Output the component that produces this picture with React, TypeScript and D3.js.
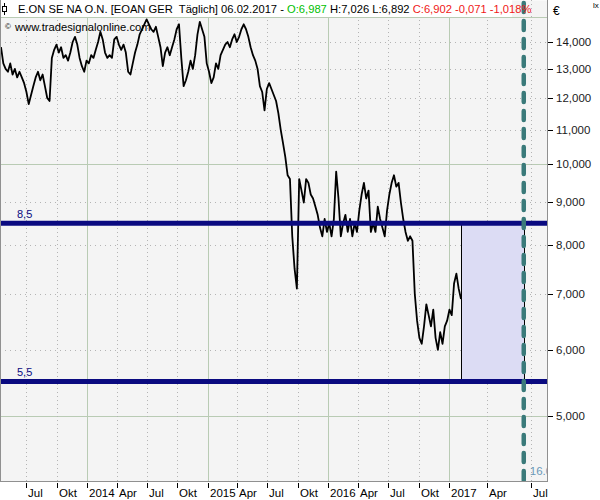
import React from 'react';
import * as d3 from 'd3';

// weekly closes (EUR), first week starts 15.04.2013, last one is 06.02.2017
const weekStart = new Date(2013, 3, 15);
const closes = [
  13.8, 13.2, 13.0, 12.9, 13.2, 12.8, 13.0, 12.7, 12.9, 12.7,
  12.5, 12.2, 11.8, 12.1, 12.4, 12.7, 12.9, 12.6, 12.8, 12.4,
  12.0, 11.9, 13.4, 13.7, 13.9, 13.6, 13.8, 13.4, 13.5, 13.3,
  13.6, 14.0, 14.2, 13.9, 13.4, 13.1, 12.9, 13.3, 13.2, 13.5,
  13.4, 13.7, 14.0, 14.4, 14.1, 13.6, 13.4, 13.5, 13.4, 14.1,
  14.2, 13.9, 13.7, 13.9, 13.6, 12.9, 12.8, 13.2, 13.6, 13.9,
  14.3, 14.5, 14.7, 14.9, 14.7, 14.5, 14.4, 14.6, 14.2, 13.8,
  13.1, 13.6, 13.8, 13.5, 13.8, 14.1, 14.5, 14.7, 13.4, 12.4,
  12.6, 12.9, 13.3, 13.0, 13.5, 14.3, 14.8, 14.5, 14.2, 13.2,
  12.9, 12.5, 12.7, 13.2, 13.0, 13.5, 13.7, 13.9, 14.0, 13.8,
  14.1, 14.3, 14.0, 14.2, 14.5, 14.7, 14.5, 14.2, 13.8, 13.5,
  13.3, 13.0, 12.4, 12.2, 11.6, 12.3, 12.5, 12.3, 12.1, 11.9,
  11.5, 11.0, 10.6, 10.2, 9.7, 9.6, 8.2, 7.5, 7.1, 9.6,
  9.3, 9.0, 9.6, 9.5, 9.2, 9.1, 8.9, 8.7, 8.4, 8.2,
  8.6, 8.3, 8.5, 8.2, 8.6, 9.8, 9.1, 8.2, 8.5, 8.7,
  8.3, 8.6, 8.2, 8.5, 8.3, 8.8, 9.2, 9.5, 9.1, 9.3,
  8.3, 8.5, 8.3, 8.9, 8.6, 8.4, 8.2, 8.8, 9.2, 9.5,
  9.7, 9.4, 9.5, 9.0, 8.6, 8.3, 8.1, 8.2, 8.1, 7.0,
  6.5, 6.2, 6.1, 6.4, 6.8, 6.6, 6.4, 6.7, 6.2, 6.0,
  6.3, 6.1, 6.4, 6.5, 6.7, 6.6, 7.2, 7.4, 7.1, 6.9,
];
const dates = closes.map((_, i) => d3.timeDay.offset(weekStart, 7 * i));

const lastDate = new Date(2017, 1, 6);
const axisEnd = new Date(2017, 6, 1);
const targetDate = new Date(2017, 5, 16);
const levels = [8.5, 5.5];
const yTicks = [5, 6, 7, 8, 9, 10, 11, 12, 13, 14];
const yGrid = [5, 6, 7, 8, 9, 10, 11, 12, 13, 14, 15];
const monthNames: Record<number, string> = { 3: 'Apr', 6: 'Jul', 9: 'Okt' };

const de = d3.formatLocale({ decimal: ',', thousands: '.', grouping: [3], currency: ['', '€'] });
const fmt3 = de.format('.3f');
const fmt1 = de.format('.1f');

const FONT = 'Liberation Sans, Arial, sans-serif';

export default function App() {
  const W = 600, H = 500;
  const plotR = 547, plotB = 481;

  // past: trading-time axis, future part is stretched (as in the source chart)
  const x = d3.scaleTime()
    .domain([weekStart, lastDate, axisEnd])
    .range([1, 461, 531]);
  const y = d3.scaleLog().domain([5, 14]).range([416, 42]);

  const line = d3.line<number>()
    .x((_, i) => x(dates[i]))
    .y(d => y(d));

  const quarters = d3.timeMonth.every(3)!.range(new Date(2013, 6, 1), new Date(2017, 7, 1));

  return (
    <svg width={W} height={H} style={{ position: 'absolute', left: 0, top: 0, background: '#fff' }}
      fontFamily={FONT}>
      <defs>
        <clipPath id="plot">
          <rect x={0} y={0} width={plotR} height={plotB} />
        </clipPath>
      </defs>
      <rect x={0.5} y={0.5} width={plotR - 0.5} height={plotB - 0.5} fill="#f4f4f4" />

      <g clipPath="url(#plot)">
        {/* horizontal grid */}
        {yGrid.map(v => (
          <line key={'h' + v} x1={0} x2={plotR} y1={Math.round(y(v)) + 0.5} y2={Math.round(y(v)) + 0.5}
            stroke={v % 5 === 0 ? '#b9cbb4' : '#b4b4b4'}
            strokeDasharray={v % 5 === 0 ? undefined : '1,4'} />
        ))}
        {/* vertical grid */}
        {quarters.map(d => (
          <line key={'v' + d.getTime()} x1={Math.round(x(d)) + 0.5} x2={Math.round(x(d)) + 0.5} y1={0} y2={plotB}
            stroke={d.getMonth() === 0 ? '#b9cbb4' : '#b4b4b4'}
            strokeDasharray={d.getMonth() === 0 ? undefined : '1,3'} />
        ))}

        {/* target box */}
        <rect x={Math.round(x(lastDate)) + 0.5} y={Math.round(y(levels[0])) + 0.5}
          width={Math.round(x(targetDate)) - Math.round(x(lastDate))}
          height={Math.round(y(levels[1])) - Math.round(y(levels[0]))}
          fill="#dcdcf4" stroke="#000" strokeWidth={1} />

        <path d={line(closes) ?? ''} fill="none" stroke="#000" strokeWidth={1.8} strokeLinejoin="round" />

        {levels.map(v => (
          <g key={'l' + v}>
            <line x1={0} x2={plotR} y1={y(v)} y2={y(v)} stroke="#0a0a80" strokeWidth={5} />
            <text x={17} y={y(v) - 5} fontSize={11} fill="#0a0a80">{fmt1(v)}</text>
          </g>
        ))}

        <line x1={x(targetDate)} x2={x(targetDate)} y1={3} y2={plotB} stroke="#3a7a7a"
          strokeWidth={4.5} strokeDasharray="9,9" strokeLinecap="round" />
        <text x={x(targetDate) + 6} y={475} fontSize={11.5} fill="#6a98b8">16.06.2017</text>
      </g>

      <line x1={0.5} x2={0.5} y1={0} y2={plotB} stroke="#909090" />
      <line x1={0} x2={plotR} y1={plotB + 0.5} y2={plotB + 0.5} stroke="#909090" />
      <line x1={plotR + 0.5} x2={plotR + 0.5} y1={0} y2={plotB + 1} stroke="#909090" />

      {/* header */}
      <rect x={1} y={0} width={511} height={17} fill="#fff" />
      <line x1={4.5} x2={4.5} y1={3} y2={15} stroke="#000" />
      <rect x={2.5} y={6.5} width={4} height={5} fill="#fff" stroke="#000" />
      <text x={18} y={13} fontSize={11.2} fill="#000" style={{ whiteSpace: 'pre' }}>
        <tspan>{'E.ON SE NA O.N. [EOAN GER  Täglich] 06.02.2017 - '}</tspan>
        <tspan fill="#00c000">O:6,987</tspan>
        <tspan>{' H:7,026 L:6,892 '}</tspan>
        <tspan fill="#f01818">C:6,902 -0,071 -1,018%</tspan>
      </text>
      <text x={5} y={29} fontSize={8} fill="#000">©</text>
      <text x={15} y={31} fontSize={11.2} fill="#000">www.tradesignalonline.com</text>

      {/* right axis */}
      <text x={553} y={15} fontSize={12} fill="#000">€</text>
      <text x={593} y={8} fontSize={8} fill="#000">lx</text>
      {yTicks.map(v => (
        <g key={'t' + v}>
          <line x1={plotR + 1} x2={plotR + 6} y1={Math.round(y(v)) + 0.5} y2={Math.round(y(v)) + 0.5} stroke="#000" />
          <text x={556} y={y(v) + 4} fontSize={11.5} fill="#1a1a1a">{fmt3(v)}</text>
        </g>
      ))}

      {/* bottom axis */}
      {quarters.map(d => {
        const px = Math.round(x(d)) + 0.5;
        const label = d.getMonth() === 0 ? String(d.getFullYear()) : monthNames[d.getMonth()];
        return (
          <g key={'b' + d.getTime()}>
            <line x1={px} x2={px} y1={483} y2={488} stroke="#000" />
            <text x={px + 1.5} y={497} fontSize={11.5} fill="#000">{label}</text>
          </g>
        );
      })}
    </svg>
  );
}
